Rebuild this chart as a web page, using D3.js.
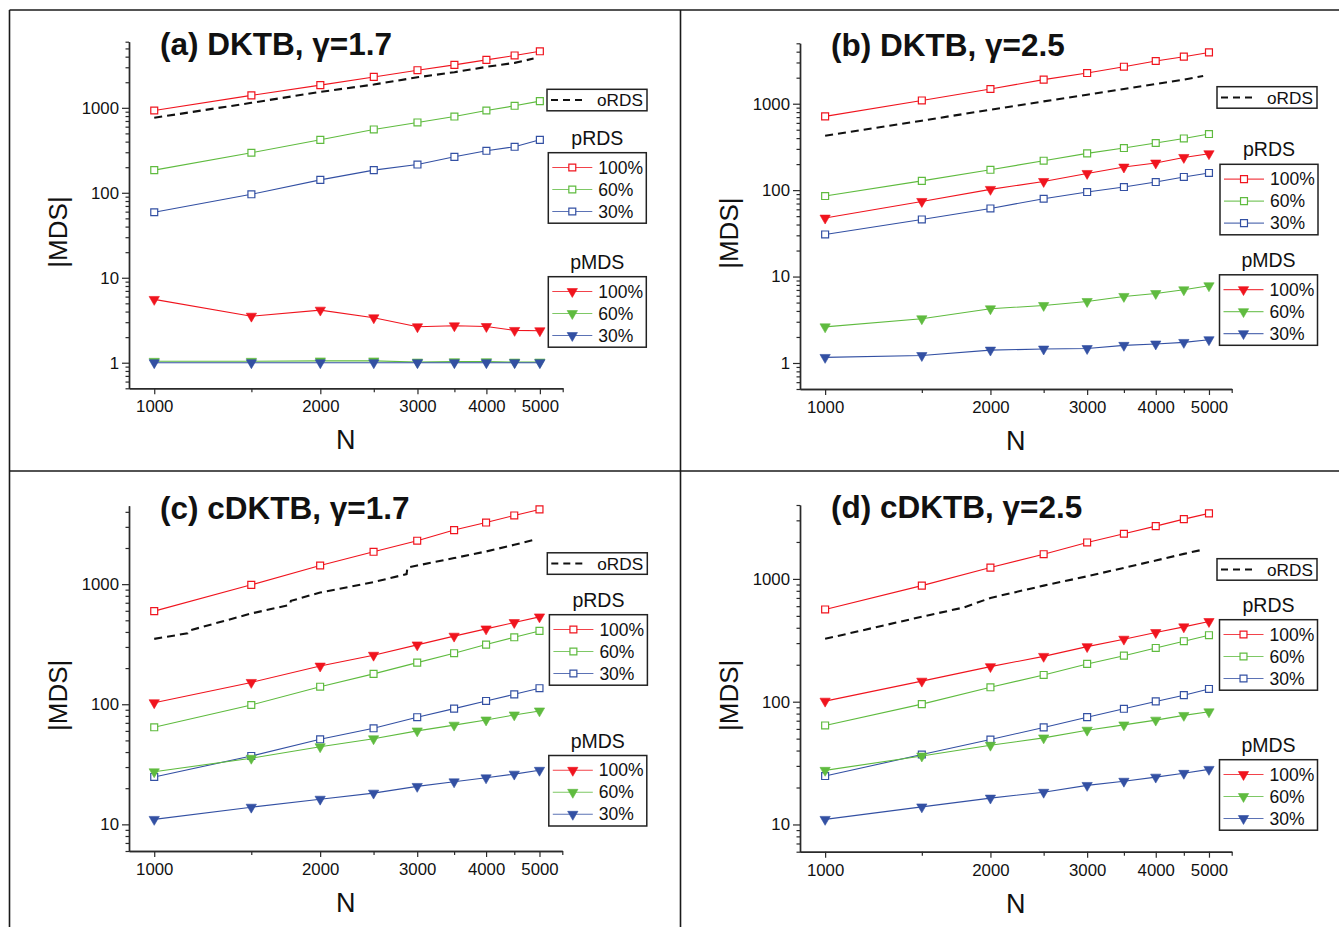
<!DOCTYPE html>
<html><head><meta charset="utf-8">
<script src="https://cdn.jsdelivr.net/npm/d3@7"></script>
<style>
body{margin:0;background:#fff}
svg{display:block}
text{font-family:"Liberation Sans",Arial,Helvetica,sans-serif;fill:#111}
</style>
</head><body>
<svg id="chart" width="1339" height="927"></svg>
<script>
// ---------------- data ----------------
const N = [1000,1500,2000,2500,3000,3500,4000,4500,5000];
const xTickLabels = [1000,2000,3000,4000,5000];
const xMinorTicks = [1500,2500,3500,4500,5500];
const yLabelsAB = [1,10,100,1000];
const yLabelsCD = [10,100,1000];
const panelTitles = ["(a) DKTB, γ=1.7","(b) DKTB, γ=2.5","(c) cDKTB, γ=1.7","(d) cDKTB, γ=2.5"];
const seriesNames = ["100%","60%","30%"];
const legendNames = ["oRDS","pRDS","pMDS"];
const axisTitleX = "N";
const axisTitleY = "|MDS|";

// panel (a)
const a_pRDS100 = [930,1400,1850,2310,2770,3200,3670,4130,4630];
const a_pRDS60  = [185,296,420,556,672,790,930,1056,1200];
const a_pRDS30  = [59,96,142,185,215,265,312,348,420];
const a_pMDS100 = [5.56,3.53,4.16,3.38,2.65,2.72,2.67,2.40,2.38];
const a_pMDS60  = [1.04,1.04,1.05,1.05,1.02,1.03,1.03,1.02,1.02];
const a_pMDS30  = [1,1,1,1,1,1,1,1,1];
const a_oRDS_N  = [1000,1500,2000,2500,3000,3500,4000,4500,4870];
const a_oRDS    = [763,1145,1540,1880,2290,2625,3035,3380,3800];

// panel (b)
const b_pRDS100 = [713,1090,1480,1900,2265,2680,3120,3500,3920];
const b_pRDS60  = [85.5,128,172,219,266,307,351,396,446];
const b_pRDS30  = [30.7,45.8,61.4,79.5,95,108.6,124,142,158];
const b_pMDS100 = [47.5,74,102,126,156,185,206,239,264];
const b_pMDS60  = [2.62,3.25,4.24,4.63,5.15,5.89,6.37,7.03,7.83];
const b_pMDS30  = [1.16,1.22,1.41,1.45,1.47,1.60,1.66,1.73,1.86];
const b_oRDS_N  = [1000,1500,2000,2500,3000,3500,4000,4500,4880];
const b_oRDS    = [426,636,852,1064,1271,1479,1690,1900,2090];

// panel (c)
const c_pRDS100 = [596,987,1430,1860,2300,2820,3260,3730,4190];
const c_pRDS60  = [64.3,98.6,140,179,222,266,314,361,408];
const c_pRDS30  = [24.8,37.1,51.1,63.1,78,92,106.5,121,136];
const c_pMDS100 = [103,152,208,256,312,369,424,479,534];
const c_pMDS60  = [27.4,35.5,44.3,51.6,60,67,74,81.5,88];
const c_pMDS30  = [11.0,13.9,16.2,18.2,20.7,22.6,24.4,26.2,28.2];
const c_oRDS_N  = [1000,1150,1160,1500,1760,1770,2000,2500,2870,2880,3000,3500,4000,4500,4860];
const c_oRDS    = [350,390,412,570,672,726,851,1040,1212,1375,1429,1648,1870,2126,2328];

// panel (d)
const d_pRDS100 = [564,882,1237,1589,1982,2333,2693,3070,3420];
const d_pRDS60  = [64,95.5,131,165,203,237,274,311,348];
const d_pRDS30  = [24.8,37.1,49.2,61.7,74.8,87.5,100.5,113,127];
const d_pMDS100 = [101,147,193,234,281,323,366,407,450];
const d_pMDS60  = [27.6,36.1,44.2,50.7,58.6,64.7,70.8,77.3,82.7];
const d_pMDS30  = [11.0,13.9,16.4,18.3,20.8,22.5,24.3,26.1,28.1];
const d_oRDS_N  = [1000,1500,1790,2000,2500,3000,3500,4000,4500,4890];
const d_oRDS    = [325,492,586,700,882,1050,1230,1412,1600,1737];

// ---------------- styles / layout ----------------
const colors = ["#f0141e","#5fbb3f","#3350a3"];
const FONT = '"Liberation Sans",Arial,Helvetica,sans-serif';

const panels = [
  {title:panelTitles[0], L:129, R:562.7, T:41.7, B:388.3, yDom:[0.5,6000], yLab:yLabelsAB,
   pRDS:[a_pRDS100,a_pRDS60,a_pRDS30], pMDS:[a_pMDS100,a_pMDS60,a_pMDS30], oN:a_oRDS_N, o:a_oRDS,
   lg:{oX:547, oY:89.3, rX:548.3, rY:152.7, mX:548.3, mY:276.7}},
  {title:panelTitles[1], L:800, R:1231.7, T:43.3, B:389, yDom:[0.5,5000], yLab:yLabelsAB,
   pRDS:[b_pRDS100,b_pRDS60,b_pRDS30], pMDS:[b_pMDS100,b_pMDS60,b_pMDS30], oN:b_oRDS_N, o:b_oRDS,
   lg:{oX:1217, oY:86.7, rX:1220, rY:164.3, mX:1219.5, mY:274.8}},
  {title:panelTitles[2], L:129, R:562.3, T:505.7, B:851, yDom:[6,4500], yLab:yLabelsCD,
   pRDS:[c_pRDS100,c_pRDS60,c_pRDS30], pMDS:[c_pMDS100,c_pMDS60,c_pMDS30], oN:c_oRDS_N, o:c_oRDS,
   lg:{oX:547.3, oY:552.8, rX:549.4, rY:614.7, mX:548.8, mY:755.5}},
  {title:panelTitles[3], L:800, R:1231.7, T:505, B:851.7, yDom:[6,4000], yLab:yLabelsCD,
   pRDS:[d_pRDS100,d_pRDS60,d_pRDS30], pMDS:[d_pMDS100,d_pMDS60,d_pMDS30], oN:d_oRDS_N, o:d_oRDS,
   lg:{oX:1217, oY:558.7, rX:1219.5, rY:619.7, mX:1219.5, mY:759.7}}
];

const svg = d3.select("#chart");

// outer frame lines
const frame = svg.append("g").attr("stroke","#1a1a1a").attr("stroke-width",1.6).attr("fill","none");
frame.append("line").attr("x1",9.5).attr("x2",1339).attr("y1",10).attr("y2",10);
frame.append("line").attr("x1",9.5).attr("x2",9.5).attr("y1",10).attr("y2",927);
frame.append("line").attr("x1",680.5).attr("x2",680.5).attr("y1",10).attr("y2",927);
frame.append("line").attr("x1",9.5).attr("x2",1339).attr("y1",471).attr("y2",471);

const sq = d3.symbol().type(d3.symbolSquare).size(48);
const tri = d3.symbol().type(d3.symbolTriangle).size(46);

function minorTicks(dom){
  const out=[];
  for(let e=-1;e<=4;e++){
    for(let k=2;k<=9;k++){
      const v=k*Math.pow(10,e);
      if(v>=dom[0]-1e-9 && v<=dom[1]+1e-9) out.push(v);
    }
  }
  return out;
}

panels.forEach(p=>{
  const g = svg.append("g");
  const x = d3.scaleLog().domain([900,5500]).range([p.L,p.R]);
  const y = d3.scaleLog().domain(p.yDom).range([p.B,p.T]);

  const axStyle = sel=>{
    sel.select(".domain").attr("stroke","#2a2a2a").attr("stroke-width",1.4);
    sel.selectAll(".tick line").attr("stroke","#2a2a2a").attr("stroke-width",1.2);
    sel.selectAll(".tick text").attr("font-family",FONT).attr("font-size",16.8).attr("fill","#111");
  };
  g.append("g").attr("transform",`translate(${p.L},0)`)
    .call(d3.axisLeft(y).tickValues(minorTicks(p.yDom)).tickSize(3.5).tickSizeOuter(0).tickFormat(""))
    .call(axStyle);
  g.append("g").attr("transform",`translate(${p.L},0)`)
    .call(d3.axisLeft(y).tickValues(p.yLab).tickSize(7).tickSizeOuter(0).tickPadding(3).tickFormat(d3.format("d")))
    .call(axStyle);
  g.append("g").attr("transform",`translate(0,${p.B})`)
    .call(d3.axisBottom(x).tickValues(xMinorTicks).tickSize(4).tickSizeOuter(0).tickFormat(""))
    .call(axStyle);
  g.append("g").attr("transform",`translate(0,${p.B})`)
    .call(d3.axisBottom(x).tickValues(xTickLabels).tickSize(6).tickSizeOuter(0).tickPadding(6).tickFormat(d3.format("d")))
    .call(axStyle);

  g.append("text").attr("x",(p.L+p.R)/2).attr("y",p.B+61).attr("text-anchor","middle")
    .attr("font-size",27).text(axisTitleX);
  g.append("text").attr("transform",`translate(${p.L-71},${(p.T+p.B)/2+17}) rotate(-90)`)
    .attr("text-anchor","middle").attr("dominant-baseline","central").attr("font-size",26).text(axisTitleY);

  g.append("text").attr("x",p.L+31).attr("y",p.T+13).attr("font-size",31.5).attr("font-weight","bold")
    .text(p.title);

  const line = d3.line().x(d=>x(d[0])).y(d=>y(d[1]));

  g.append("path").datum(p.oN.map((n,i)=>[n,p.o[i]])).attr("d",line)
    .attr("fill","none").attr("stroke","#111").attr("stroke-width",2.1).attr("stroke-dasharray","8,5");

  p.pRDS.forEach((arr,i)=>{
    const pts = N.map((n,j)=>[n,arr[j]]);
    g.append("path").datum(pts).attr("d",line).attr("fill","none").attr("stroke",colors[i]).attr("stroke-width",1.1);
    g.selectAll(null).data(pts).enter().append("path").attr("d",sq)
      .attr("transform",d=>`translate(${x(d[0])},${y(d[1])})`)
      .attr("fill","#fff").attr("stroke",colors[i]).attr("stroke-width",1.2);
  });
  p.pMDS.forEach((arr,i)=>{
    const pts = N.map((n,j)=>[n,arr[j]]);
    g.append("path").datum(pts).attr("d",line).attr("fill","none").attr("stroke",colors[i]).attr("stroke-width",1.1);
    g.selectAll(null).data(pts).enter().append("path").attr("d",tri)
      .attr("transform",d=>`translate(${x(d[0])},${y(d[1])}) rotate(180)`)
      .attr("fill",colors[i]).attr("stroke",colors[i]).attr("stroke-width",0.6);
  });

  // ---- legends ----
  const lg = p.lg;
  const boxStroke = "#222";
  g.append("rect").attr("x",lg.oX).attr("y",lg.oY).attr("width",100).attr("height",21.5)
    .attr("fill","#fff").attr("stroke",boxStroke).attr("stroke-width",1.5);
  g.append("line").attr("x1",lg.oX+4).attr("x2",lg.oX+40).attr("y1",lg.oY+10.8).attr("y2",lg.oY+10.8)
    .attr("stroke","#111").attr("stroke-width",2).attr("stroke-dasharray","7,5");
  g.append("text").attr("x",lg.oX+50).attr("y",lg.oY+10.8).attr("dominant-baseline","central")
    .attr("font-size",17.2).text(legendNames[0]);

  function groupLegend(bx,by,title,sym,filled){
    g.append("text").attr("x",bx+49).attr("y",by-8).attr("text-anchor","middle").attr("font-size",19.5).text(title);
    g.append("rect").attr("x",bx).attr("y",by).attr("width",98).attr("height",70.5)
      .attr("fill","#fff").attr("stroke",boxStroke).attr("stroke-width",1.5);
    seriesNames.forEach((s,i)=>{
      const cy = by+14.8+i*22;
      g.append("line").attr("x1",bx+4).attr("x2",bx+44).attr("y1",cy).attr("y2",cy)
        .attr("stroke",colors[i]).attr("stroke-width",1.1).attr("opacity",0.8);
      g.append("path").attr("d",sym).attr("transform",`translate(${bx+24},${cy})${filled?" rotate(180)":""}`)
        .attr("fill",filled?colors[i]:"#fff").attr("stroke",colors[i]).attr("stroke-width",filled?0.6:1.2);
      g.append("text").attr("x",bx+50).attr("y",cy).attr("dominant-baseline","central")
        .attr("font-size",17.5).text(s);
    });
  }
  groupLegend(lg.rX,lg.rY,legendNames[1],sq,false);
  groupLegend(lg.mX,lg.mY,legendNames[2],tri,true);
});
</script>
</body></html>
